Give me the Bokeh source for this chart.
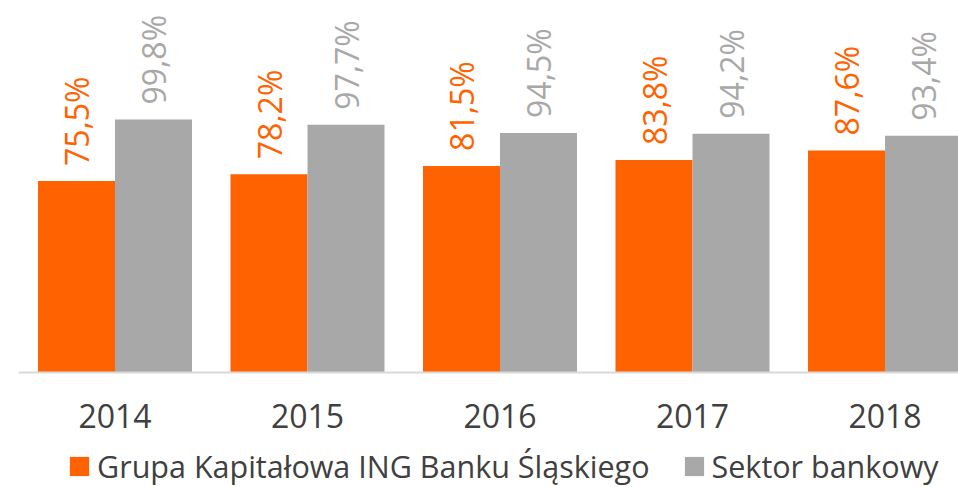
from bokeh.plotting import figure
from bokeh.models import ColumnDataSource, Range1d, FixedTicker, Legend, LegendItem
from bokeh.core.properties import value
from bokeh.embed import file_html
from bokeh.resources import INLINE

years = ["2014", "2015", "2016", "2017", "2018"]
ing_group = [75.5, 78.2, 81.5, 83.8, 87.6]
bank_sector = [99.8, 97.7, 94.5, 94.2, 93.4]
series_names = ["Grupa Kapitałowa ING Banku Śląskiego", "Sektor bankowy"]

ORANGE = "#FF6200"
GRAY = "#A8A8A8"
FONT = "Open Sans"

idx = list(range(len(years)))
src_o = ColumnDataSource(dict(
    x=[i - 0.2 for i in idx], top=ing_group,
    lab=[f"{v:.1f}%".replace(".", ",") for v in ing_group]))
src_g = ColumnDataSource(dict(
    x=[i + 0.2 for i in idx], top=bank_sector,
    lab=[f"{v:.1f}%".replace(".", ",") for v in bank_sector]))

p = figure(width=958, height=487, output_backend="svg", toolbar_location=None,
           x_range=Range1d(-0.5013, 4.3818), y_range=Range1d(-45.36, 146.75),
           y_axis_location=None, min_border_left=18, min_border_right=0,
           min_border_top=0, min_border_bottom=0)
p.outline_line_color = None
p.xgrid.visible = False
p.ygrid.visible = False
p.background_fill_color = "white"
p.border_fill_color = "white"

r_o = p.vbar(x="x", top="top", width=0.4, bottom=0, source=src_o,
             fill_color=ORANGE, line_color=None)
r_g = p.vbar(x="x", top="top", width=0.4, bottom=0, source=src_g,
             fill_color=GRAY, line_color=None)

p.text(x="x", y="top", text="lab", source=src_o, angle=1.5708,
       text_align="left", text_baseline="middle", y_offset=-15,
       text_font=value(FONT), text_font_size="32px", text_color=ORANGE)
p.text(x="x", y="top", text="lab", source=src_g, angle=1.5708,
       text_align="left", text_baseline="middle", y_offset=-15,
       text_font=value(FONT), text_font_size="32px", text_color=GRAY)

ax = p.xaxis[0]
ax.fixed_location = 0
ax.ticker = FixedTicker(ticks=idx)
ax.major_label_overrides = {i: y for i, y in zip(idx, years)}
ax.axis_line_color = "#D9D9D9"
ax.axis_line_width = 2
ax.major_tick_line_color = None
ax.minor_tick_line_color = None
ax.major_label_standoff = 25
ax.major_label_text_font = FONT
ax.major_label_text_font_size = "32px"
ax.major_label_text_color = "#404040"

legend = Legend(items=[LegendItem(label=series_names[0], renderers=[r_o]),
                       LegendItem(label=series_names[1], renderers=[r_g])],
                orientation="horizontal", location=(49, 0))
legend.glyph_width = 24
legend.glyph_height = 24
legend.label_standoff = 6
legend.spacing = 32
legend.padding = 0
legend.margin = 0
legend.border_line_color = None
legend.background_fill_alpha = 0
legend.label_text_font = FONT
legend.label_text_font_size = "30.5px"
legend.label_text_color = "#404040"
p.add_layout(legend, "center")

open("out.html", "w").write(file_html(p, INLINE))
